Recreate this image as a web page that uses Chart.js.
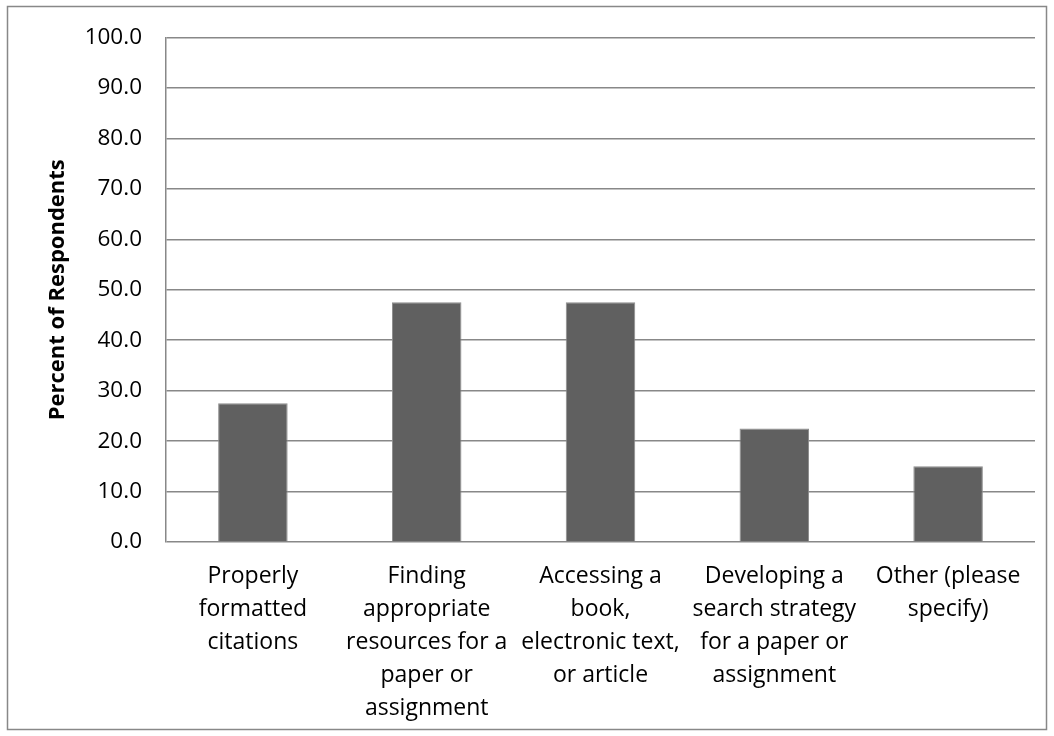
<!DOCTYPE html>
<html>
<head>
<meta charset="utf-8">
<script src="https://cdn.jsdelivr.net/npm/chart.js@4/dist/chart.umd.min.js"></script>
<style>
  html, body { margin: 0; padding: 0; background: #fff; }
  canvas { display: block; }
</style>
</head>
<body>
<canvas id="chart" width="1054" height="736"></canvas>
<script>
const categories = [
    ['Properly', 'formatted', 'citations'],
    ['Finding', 'appropriate', 'resources for a', 'paper or', 'assignment'],
    ['Accessing a', 'book,', 'electronic text,', 'or article'],
    ['Developing a', 'search strategy', 'for a paper or', 'assignment'],
    ['Other (please', 'specify)'],
];
const percentValues = [27.5, 47.5, 47.5, 22.5, 15.0];
const axisTitle = 'Percent of Respondents';

const fontFamily = '"Open Sans", Lato, sans-serif';
const gridColor = '#888888';

// outer frame round the whole chart
const frame = {
    id: 'frame',
    beforeDraw: function (chart) {
        let ctx = chart.ctx;
        ctx.save();
        ctx.fillStyle = '#fff';
        ctx.fillRect(0, 0, chart.width, chart.height);
        ctx.strokeStyle = gridColor;
        ctx.lineWidth = 1.5;
        ctx.strokeRect(7.5, 6.5, 1039, 723);
        ctx.restore();
    }
};

let ctx = document.getElementById('chart').getContext('2d');
let chart = new Chart(ctx, {
    type: 'bar',
    data: {
        labels: categories,
        datasets: [{
            data: percentValues,
            backgroundColor: '#606060',
            borderColor: '#8c8c8c',
            borderWidth: 1,
            categoryPercentage: 1.0,
            barPercentage: 0.4,
        }]
    },
    plugins: [frame],
    options: {
        responsive: false,
        animation: false,
        layout: {
            padding: {left: 0, right: 19, top: 34, bottom: 0}
        },
        plugins: {
            legend: {display: false},
            tooltip: {enabled: false},
        },
        scales: {
            x: {
                grid: {display: false, drawTicks: false},
                border: {display: false},
                ticks: {
                    color: '#000',
                    padding: 18,
                    maxRotation: 0,
                    autoSkip: false,
                    font: {family: fontFamily, size: 23, lineHeight: 33 / 23},
                },
                afterFit: function (scale) {
                    scale.height = 194;
                }
            },
            y: {
                min: 0,
                max: 100,
                grid: {color: gridColor, lineWidth: 1.5, drawTicks: false},
                border: {display: true, color: gridColor, width: 1.5},
                ticks: {
                    stepSize: 10,
                    color: '#000',
                    padding: 24,
                    font: {family: fontFamily, size: 22.5},
                    callback: function (value) {
                        return value.toFixed(1);
                    }
                },
                title: {
                    display: true,
                    text: axisTitle,
                    color: '#000',
                    font: {family: fontFamily, size: 22, weight: 'bold'},
                    padding: {top: 45, bottom: 0}
                },
                afterFit: function (scale) {
                    scale.width = 166;
                }
            }
        }
    }
});
</script>
</body>
</html>
